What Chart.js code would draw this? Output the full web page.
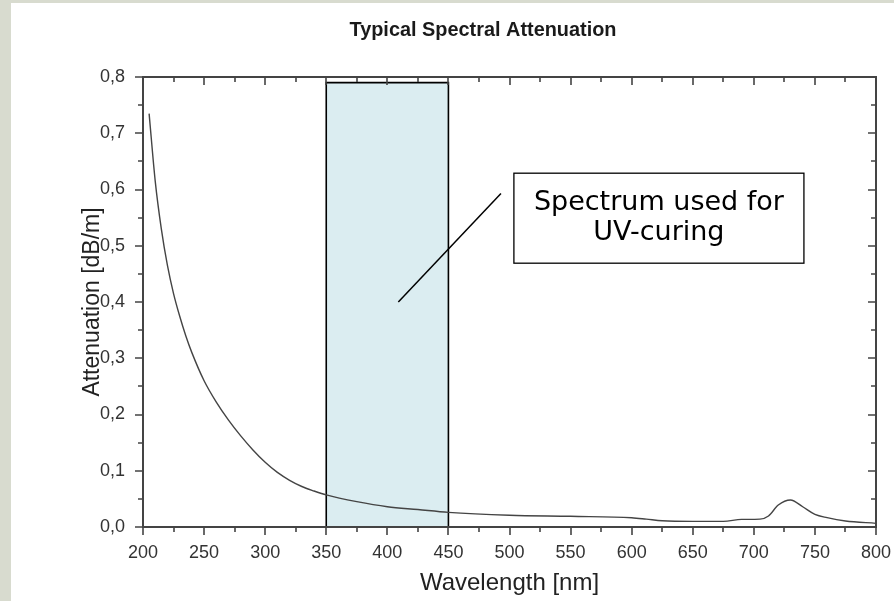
<!DOCTYPE html>
<html>
<head>
<meta charset="utf-8">
<script src="https://cdn.jsdelivr.net/npm/chart.js@4.4.1/dist/chart.umd.min.js"></script>
<style>
  html, body { margin: 0; padding: 0; }
  body { width: 894px; height: 601px; background: #d8dbcf; position: relative; overflow: hidden; }
  #marco { position: absolute; left: 11px; top: 3px; width: 883px; height: 598px; background: #fff; }
</style>
</head>
<body>
<div id="marco"><canvas id="grafico"></canvas></div>
<script>
const longitudOnda = [205, 210, 215, 220, 225, 230, 235, 240, 250, 260, 270, 280, 290, 300, 310, 320, 330, 340, 350,
                      375, 400, 425, 450, 500, 550, 600, 612, 625, 650, 675, 690, 705, 712, 720, 730, 740, 750, 760, 775, 800];
const atenuacion = [0.735, 0.615, 0.53, 0.465, 0.415, 0.375, 0.34, 0.31, 0.26, 0.222, 0.19, 0.162, 0.137, 0.115, 0.097, 0.083, 0.072, 0.064, 0.057,
                    0.045, 0.036, 0.031, 0.026, 0.021, 0.019, 0.0165, 0.014, 0.011, 0.010, 0.010, 0.0135, 0.014, 0.0196, 0.039, 0.048, 0.036, 0.0225, 0.0166, 0.0107, 0.0065];

// banda UV (rectángulo sombreado)
const bandaX = [350, 350, 450, 450];
const bandaY = [0, 0.79, 0.79, 0];

// línea de la nota
const notaLineaX = [409, 493];
const notaLineaY = [0.40, 0.593];
const notaTexto = ['Spectrum used for', 'UV-curing'];

// ejes
const ticksX = [200, 250, 300, 350, 400, 450, 500, 550, 600, 650, 700, 750, 800];
const ticksY = [0, 0.1, 0.2, 0.3, 0.4, 0.5, 0.6, 0.7, 0.8];
const titulo = 'Typical Spectral Attenuation';

const aPuntos = (xs, ys) => xs.map((v, i) => ({x: v, y: ys[i]}));
const menores = (t) => t.slice(0, -1).map((v, i) => (v + t[i + 1]) / 2);

// marco con ticks en los 4 lados, caja de la nota y título
const marcoEjes = {
  id: 'marcoEjes',
  afterDatasetsDraw(chart) {
    const {ctx, chartArea: a, scales: {x, y}} = chart;
    ctx.save();
    ctx.strokeStyle = '#444';
    ctx.lineWidth = 2;
    ctx.strokeRect(a.left, a.top, a.right - a.left, a.bottom - a.top);
    ctx.lineWidth = 1.6;
    ctx.beginPath();
    const tx = (v, l) => {
      const p = Math.round(x.getPixelForValue(v));
      ctx.moveTo(p, a.bottom); ctx.lineTo(p, a.bottom + l);
      ctx.moveTo(p, a.top); ctx.lineTo(p, a.top + l);
    };
    const ty = (v, l) => {
      const p = Math.round(y.getPixelForValue(v));
      ctx.moveTo(a.left - l, p); ctx.lineTo(a.left, p);
      ctx.moveTo(a.right - l, p); ctx.lineTo(a.right, p);
    };
    ticksX.forEach(v => tx(v, 8));
    menores(ticksX).forEach(v => tx(v, 5));
    ticksY.forEach(v => ty(v, 8));
    menores(ticksY).forEach(v => ty(v, 5));
    ctx.stroke();

    // caja de la nota
    const x1 = x.getPixelForValue(503.6), x2 = x.getPixelForValue(741);
    const y1 = y.getPixelForValue(0.629), y2 = y.getPixelForValue(0.469);
    ctx.fillStyle = '#fff';
    ctx.fillRect(x1, y1, x2 - x1, y2 - y1);
    ctx.strokeStyle = '#000';
    ctx.lineWidth = 1.3;
    ctx.strokeRect(x1, y1, x2 - x1, y2 - y1);
    ctx.fillStyle = '#000';
    ctx.font = '27px "DejaVu Sans", Verdana, sans-serif';
    ctx.textAlign = 'center';
    ctx.textBaseline = 'alphabetic';
    ctx.fillText(notaTexto[0], (x1 + x2) / 2, y1 + 37);
    ctx.fillText(notaTexto[1], (x1 + x2) / 2, y1 + 67);

    // título
    ctx.font = 'bold 21px "Liberation Sans Narrow", "Liberation Sans", Arial, sans-serif';
    const w = ctx.measureText(titulo).width;
    ctx.translate(a.left + 340, 27);
    if (w > 267) ctx.scale(267 / w, 1);
    ctx.fillStyle = '#1a1a1a';
    ctx.textBaseline = 'middle';
    ctx.fillText(titulo, 0, 0);
    ctx.restore();
  }
};

const ctx = document.getElementById('grafico').getContext('2d');
const fuente = '"Liberation Sans", Arial, sans-serif';

new Chart(ctx, {
  type: 'line',
  data: {
    datasets: [
      {
        label: 'Attenuation',
        data: aPuntos(longitudOnda, atenuacion),
        borderColor: '#444',
        borderWidth: 1.4,
        pointRadius: 0,
        cubicInterpolationMode: 'monotone',
        fill: false,
        order: 1
      },
      {
        label: 'nota',
        data: aPuntos(notaLineaX, notaLineaY),
        borderColor: '#000',
        borderWidth: 1.5,
        pointRadius: 0,
        fill: false,
        order: 0
      },
      {
        label: 'UV',
        data: aPuntos(bandaX, bandaY),
        borderColor: '#000',
        borderWidth: 1.6,
        backgroundColor: '#dbedf1',
        pointRadius: 0,
        tension: 0,
        fill: 'origin',
        order: 2
      }
    ]
  },
  options: {
    responsive: true,
    maintainAspectRatio: false,
    animation: false,
    layout: { padding: { top: 74, right: 18, left: 0, bottom: 0 } },
    plugins: {
      legend: { display: false },
      tooltip: { enabled: false },
      title: { display: false }
    },
    scales: {
      x: {
        type: 'linear',
        min: 200,
        max: 800,
        afterBuildTicks: (s) => { s.ticks = ticksX.map(v => ({value: v})); },
        afterFit: (s) => { s.height = 74; s.paddingLeft = 0; s.paddingRight = 0; },
        grid: { display: false, drawTicks: false },
        border: { display: false },
        ticks: {
          padding: 15,
          color: '#333',
          font: { family: fuente, size: 18 }
        },
        title: {
          display: true,
          text: 'Wavelength [nm]',
          color: '#222',
          padding: { top: 0, bottom: 3 },
          font: { family: fuente, size: 24 }
        }
      },
      y: {
        min: 0,
        max: 0.8,
        afterBuildTicks: (s) => { s.ticks = ticksY.map(v => ({value: v})); },
        afterFit: (s) => { s.width = 132; s.paddingTop = 0; s.paddingBottom = 0; },
        grid: { display: false, drawTicks: false },
        border: { display: false },
        ticks: {
          padding: 18,
          color: '#333',
          font: { family: fuente, size: 18 },
          callback: (v) => v.toFixed(1).replace('.', ',')
        },
        title: {
          display: true,
          text: 'Attenuation [dB/m]',
          color: '#222',
          padding: { top: 68, bottom: 0 },
          font: { family: fuente, size: 23 }
        }
      }
    }
  },
  plugins: [marcoEjes]
});
</script>
</body>
</html>
